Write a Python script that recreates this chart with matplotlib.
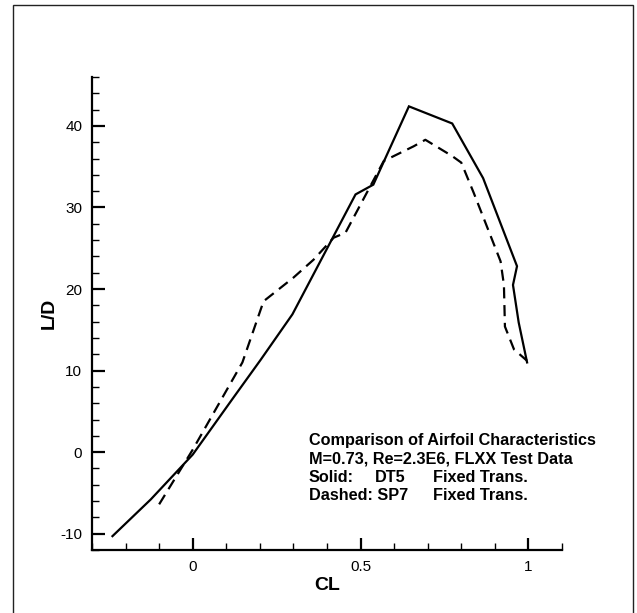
import matplotlib
matplotlib.use("Agg")
import matplotlib.pyplot as plt
from matplotlib.patches import Rectangle
from matplotlib.ticker import MultipleLocator, FixedLocator

# Data
solid_cl = [-0.239, -0.125, 0.0, 0.118, 0.202, 0.297, 0.485, 0.538, 0.644, 0.773, 0.865, 0.966, 0.954, 0.971, 0.996]
solid_ld = [-10.3, -5.8, -0.3, 6.5, 11.3, 16.9, 31.6, 32.8, 42.4, 40.3, 33.6, 22.8, 20.5, 15.9, 11.0]

dashed_cl = [-0.10, 0.0, 0.083, 0.148, 0.211, 0.30, 0.36, 0.42, 0.455, 0.569, 0.658, 0.693, 0.773, 0.80, 0.837, 0.917, 0.927, 0.93, 0.957, 0.996]
dashed_ld = [-6.4, 0.3, 6.3, 11.0, 18.5, 21.4, 23.6, 26.3, 26.9, 35.7, 37.5, 38.3, 36.3, 35.5, 31.8, 23.4, 20.5, 15.4, 12.6, 11.2]

x_ticks = [0, 0.5, 1]
x_ticklabels = ["0", "0.5", "1"]
y_ticks = [-10, 0, 10, 20, 30, 40]
y_ticklabels = ["-10", "0", "10", "20", "30", "40"]

info_lines = [
    ("Comparison of Airfoil Characteristics", None, None),
    ("M=0.73, Re=2.3E6, FLXX Test Data", None, None),
    ("Solid:", "DT5", "Fixed Trans."),
    ("Dashed: SP7", None, "Fixed Trans."),
]

W, H = 637, 613
fig = plt.figure(figsize=(W / 100, H / 100), dpi=100)
plt.rcParams['font.family'] = ['Liberation Sans', 'DejaVu Sans']

ax = fig.add_axes([92 / W, 1 - 550 / H, (562 - 92) / W, (550 - 77) / H])

ax.plot(solid_cl, solid_ld, color='black', lw=1.6, solid_joinstyle='miter')
ax.plot(dashed_cl, dashed_ld, color='black', lw=1.6, dashes=(5, 3))

ax.set_xlim(-0.3, 1.1)
ax.set_ylim(-12, 46)

for s in ['top', 'right']:
    ax.spines[s].set_visible(False)
for s in ['left', 'bottom']:
    ax.spines[s].set_linewidth(1.6)

ax.xaxis.set_major_locator(FixedLocator(x_ticks))
ax.set_xticklabels(x_ticklabels)
ax.yaxis.set_major_locator(FixedLocator(y_ticks))
ax.set_yticklabels(y_ticklabels)
ax.xaxis.set_minor_locator(MultipleLocator(0.1))
ax.yaxis.set_minor_locator(MultipleLocator(2))

ax.tick_params(which='major', direction='in', length=9, width=1.6, labelsize=11, pad=7)
ax.tick_params(which='minor', direction='in', length=5, width=1.0)

ax.set_xlabel("CL", fontsize=14, fontweight='bold', labelpad=2)
ax.set_ylabel("L/D", fontsize=14, fontweight='bold', labelpad=2)

# border frame
fig.patches.append(Rectangle((12.5 / W, -0.05), (633 - 12.5) / W, 1.05 - 5 / H,
                             transform=fig.transFigure, fill=False,
                             edgecolor='#222222', lw=1.0))

# info text
def fx(px):
    return px / W

def fy(py):
    return 1 - py / H

baselines = [445, 463, 482, 500]
for (a, b, c), by in zip(info_lines, baselines):
    fig.text(fx(309), fy(by), a, fontsize=11.7, fontweight='bold', va='baseline', ha='left')
    if b:
        fig.text(fx(375), fy(by), b, fontsize=11.7, fontweight='bold', va='baseline', ha='left')
    if c:
        fig.text(fx(433), fy(by), c, fontsize=11.7, fontweight='bold', va='baseline', ha='left')

fig.savefig("out.png", dpi=100)
